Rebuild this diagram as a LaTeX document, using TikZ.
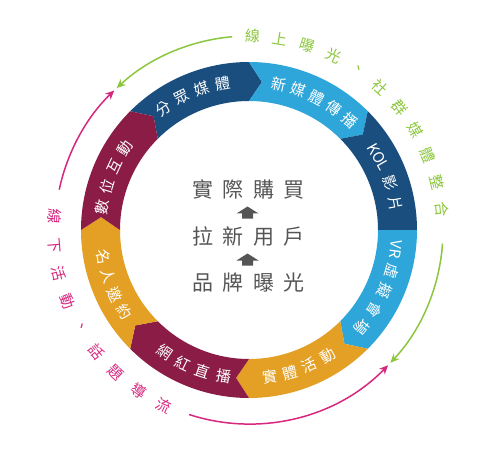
\documentclass[tikz,border=0pt]{standalone}
\usepackage{fontspec}
\setmainfont{Noto Sans CJK TC}
\usetikzlibrary{arrows.meta, calc}

\definecolor{segdark}{HTML}{1A4E7E}
\definecolor{seglight}{HTML}{2EA6D9}
\definecolor{segorange}{HTML}{E4A024}
\definecolor{segwine}{HTML}{8B1C45}
\definecolor{onlinegreen}{HTML}{8CC63E}
\definecolor{offlinepink}{HTML}{D7277F}
\definecolor{coregray}{HTML}{555555}

% one chevron piece of the ring: colour, from, to, notch, tip
\newcommand{\ringseg}[5]{%
  \fill[#1] (#2:168) arc[start angle=#2, end angle=#3, radius=168]
    -- ({#3-#5}:148.5) -- (#3:129) arc[start angle=#3, end angle=#2, radius=129]
    -- ({#2-#4}:148.5) -- cycle;}

% characters set one by one along a circle: name, style, first angle, step, radius, list
\newcommand{\arctext}[6]{%
  \foreach \ch [count=\k from 0] in {#6} {
    \pgfmathsetmacro\ang{#3+(#4)*\k}
    \node[#2, rotate={\ang+90*sign(#4)}] (#1\k) at (\ang:#5) {\ch};
  }}

\newcommand{\cgap}{\hspace{0.46em}}

\begin{document}
\begin{tikzpicture}[x=1pt, y=1pt,
  ringtxt/.style={text=white, inner sep=0pt, font=\fontsize{15}{15}\selectfont},
  outtxt/.style={inner sep=0pt, font=\fontsize{15}{15}\selectfont},
  coretxt/.style={text=coregray, inner sep=0pt, font=\fontsize{21}{21}\selectfont},
  loop/.style={line width=1.5pt, -{Stealth[length=9pt, width=8pt]}},
  blockup/.style={fill=coregray},
]
  \useasboundingbox (-249,-222) rectangle (251,230);

  % Ring
  \ringseg{segdark}{135}{90}{5}{5}
  \ringseg{seglight}{90}{45}{5}{5}
  \ringseg{segdark}{45}{0}{5}{0}
  \ringseg{seglight}{0}{-45}{0}{5}
  \ringseg{segorange}{-45}{-90}{5}{5}
  \ringseg{segwine}{-90}{-135}{5}{5}
  \ringseg{segorange}{-135}{-180}{5}{5}
  \ringseg{segwine}{-180}{-225}{5}{5}

  % Ring labels
  \arctext{fz}{ringtxt}{125}{-8.3}{148.5}{分,眾,媒,體}
  \arctext{xm}{ringtxt}{78.5}{-7.8}{148.5}{新,媒,體,傳,播}
  \node[ringtxt, rotate=-60.5] (kol) at (29.5:148.5) {KOL};
  \arctext{yp}{ringtxt}{18.5}{-8.3}{148.5}{影,片}
  \node[ringtxt, rotate=-97.5] (vr) at (-7.5:148.5) {VR};
  \arctext{xn}{ringtxt}{-16}{-8.2}{148.5}{虛,擬,會,場}
  \arctext{st}{ringtxt}{-82}{8}{148.5}{實,體,活,動}
  \arctext{wh}{ringtxt}{-124.5}{8.2}{148.5}{網,紅,直,播}
  \arctext{mr}{ringtxt}{-169.5}{7.6}{148.5}{名,人,邀,約}
  \arctext{sw}{ringtxt}{171}{-8.1}{148.5}{數,位,互,動}

  % Outer loops
  \arctext{on}{outtxt, text=onlinegreen}{89}{-8.3}{194}{線,上,曝,光,、,社,群,媒,體,整,合}
  \arctext{off}{outtxt, text=offlinepink}{176}{8.5}{195}{線,下,活,動,、,話,題,導,流}

  \draw[loop, onlinegreen] (95:194) arc[start angle=95, end angle=133, radius=194];
  \draw[loop, onlinegreen] (-4:194) arc[start angle=-4, end angle=-43.2, radius=194];
  \draw[loop, offlinepink] (168:194) arc[start angle=168, end angle=134, radius=194];
  \draw[loop, offlinepink] (252:194) arc[start angle=252, end angle=315.8, radius=194];

  % Centre
  \node[coretxt] (buy) at (-0.5,41) {實\cgap 際\cgap 購\cgap 買};
  \node[coretxt] (newuser) at (-0.5,-6) {拉\cgap 新\cgap 用\cgap 戶};
  \node[coretxt] (brand) at (-0.5,-53) {品\cgap 牌\cgap 曝\cgap 光};
  \coordinate (up1) at ($(buy)!0.5!(newuser)+(-1,0)$);
  \coordinate (up2) at ($(newuser)!0.5!(brand)+(-1,0)$);
  \fill[blockup, shift={(up1)}] (0,6) -- (-11,-1) -- (-5.5,-1) -- (-5.5,-6)
    -- (5.5,-6) -- (5.5,-1) -- (11,-1) -- cycle;
  \fill[blockup, shift={(up2)}] (0,6) -- (-11,-1) -- (-5.5,-1) -- (-5.5,-6)
    -- (5.5,-6) -- (5.5,-1) -- (11,-1) -- cycle;
\end{tikzpicture}
\end{document}
